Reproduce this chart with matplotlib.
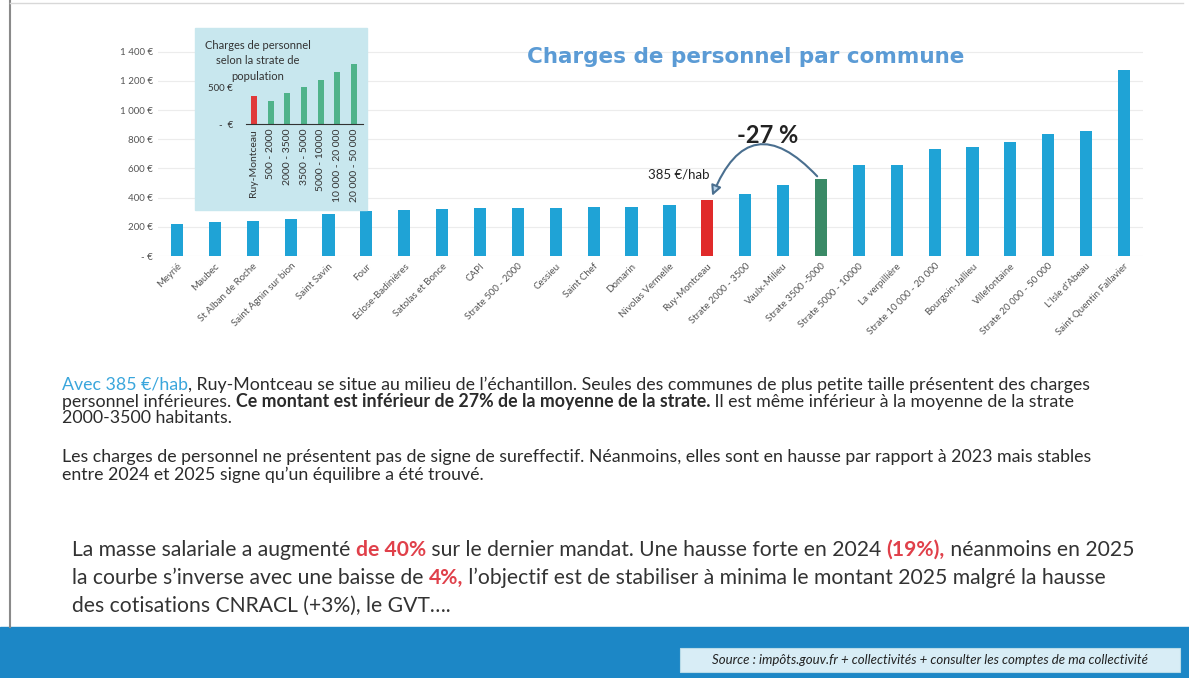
import numpy as np
import matplotlib.pyplot as plt
from matplotlib.patches import Rectangle
from matplotlib.ticker import FuncFormatter

# main chart data (EUR per inhabitant)
communes = ['Meyrié', 'Maubec', 'St Alban de Roche', 'Saint Agnin sur bion', 'Saint Savin', 'Four',
            'Eclose-Badinières', 'Satolas et Bonce', 'CAPI', 'Strate 500 - 2000', 'Cessieu', 'Saint Chef',
            'Domarin', 'Nivolas Vermelle', 'Ruy-Montceau', 'Strate 2000 - 3500', 'Vaulx-Milieu',
            'Strate 3500 -5000', 'Strate 5000 - 10000', 'La verpillière', 'Strate 10 000 - 20 000',
            'Bourgoin-Jallieu', 'Villefontaine', 'Strate 20 000 - 50 000', "L'Isle d'Abeau",
            'Saint Quentin Fallavier']
charges = [219, 232, 240, 253, 287, 307, 318, 322, 326, 330, 332, 335, 338, 348, 385, 423, 485,
           527, 625, 622, 735, 747, 778, 837, 856, 1277]
y_ticks = [0, 200, 400, 600, 800, 1000, 1200, 1400]

# inset data
strates = ['Ruy-Montceau', '500 - 2000', '2000 - 3500', '3500 - 5000', '5000 - 10000',
           '10 000 - 20 000', '20 000 - 50 000']
strate_vals = [385, 316, 426, 509, 605, 715, 825]

W, H = 1189, 678
fig = plt.figure(figsize=(W / 100, H / 100), dpi=100)
fig.patch.set_facecolor('white')
plt.rcParams['font.family'] = ['Lato', 'DejaVu Sans']


def px(x, y):
    return x / W, 1 - y / H


def box(x0, y0, x1, y1):
    return [x0 / W, 1 - y1 / H, (x1 - x0) / W, (y1 - y0) / H]


# slide frame + bottom band
fig.add_artist(plt.Line2D([10 / W, 10 / W], [1 - 627 / H, 1], color='#8a8a8a', lw=1.5))
fig.add_artist(plt.Line2D([10 / W, 1183 / W], [1 - 3 / H, 1 - 3 / H], color='#d8d8d8', lw=1))
fig.add_artist(Rectangle((0, 0), 1, 51 / H, color='#1c87c6', zorder=0))
fig.add_artist(Rectangle(px(680, 672), 500 / W, 24 / H, fc='#d8edf6', ec='#b8dbe8', lw=0.8))
fig.text(*px(930, 660), 'Source : impôts.gouv.fr + collectivités + consulter les comptes de ma collectivité',
         fontsize=9.5, style='italic', color='#222222', ha='center', va='center')

# main bar chart
colors = ['#1fa3d6'] * len(communes)
colors[communes.index('Ruy-Montceau')] = '#e02a2a'
colors[communes.index('Strate 3500 -5000')] = '#3a8a66'

ax = fig.add_axes(box(158, 37, 1143, 256))
x = np.arange(len(communes))
ax.bar(x, charges, width=0.32, color=colors, zorder=3)
ax.set_xlim(-0.5, len(communes) - 0.5)
ax.set_ylim(0, 1500)
ax.set_yticks(y_ticks)
ax.yaxis.set_major_formatter(FuncFormatter(
    lambda v, p: '- €' if v == 0 else '{:,.0f} €'.format(v).replace(',', ' ')))
ax.set_xticks(x)
ax.set_xticklabels(communes, rotation=45, ha='right', rotation_mode='anchor')
ax.tick_params(axis='both', length=0, labelsize=7, labelcolor='#555555')
ax.tick_params(axis='x', pad=4)
ax.grid(axis='y', color='#ececec', lw=0.8, zorder=0)
for s in ax.spines.values():
    s.set_visible(False)
ax.patch.set_alpha(0)

fig.text(*px(746, 57), 'Charges de personnel par commune', fontsize=15.5, fontweight='bold',
         color='#5b9bd5', ha='center', va='center', family='DejaVu Sans')

# -27% arrow between strate 3500-5000 and Ruy-Montceau
i_ruy = communes.index('Ruy-Montceau')
i_str = communes.index('Strate 3500 -5000')
ax.annotate('', xy=(i_ruy + 0.1, charges[i_ruy] + 10), xytext=(i_str - 0.05, charges[i_str] + 5),
            arrowprops=dict(arrowstyle='-|>,head_length=0.6,head_width=0.3', color='#4a6f8f',
                            fc='#b8d4ea', lw=1.5, connectionstyle='arc3,rad=0.8'), zorder=5)
ax.text(15.6, 822, '-27 %', fontsize=17, fontweight='bold', color='#222222', ha='center', va='center')
ax.text(i_ruy + 0.05, 555, '385 €/hab', fontsize=9.5, color='#222222', ha='right', va='center')

# inset chart
fig.add_artist(Rectangle(px(195, 210), 172 / W, 182 / H, color='#c8e7ee', zorder=1))
fig.text(*px(258, 61), 'Charges de personnel\nselon la strate de\npopulation', fontsize=8,
         color='#333333', ha='center', va='center', linespacing=1.45, zorder=3)
iax = fig.add_axes(box(245.6, 58.5, 362.5, 124))
iax.set_zorder(2)
iax.patch.set_alpha(0)
ix = np.arange(len(strates))
icol = ['#e03a3a'] + ['#4fb38a'] * (len(strates) - 1)
iax.bar(ix, strate_vals, width=0.36, color=icol)
iax.set_xlim(-0.5, len(strates) - 0.5)
iax.set_ylim(0, 900)
iax.set_yticks([0, 500])
iax.set_yticklabels(['-  €', '500 €'])
iax.set_xticks(ix)
iax.set_xticklabels(strates, rotation=90)
iax.tick_params(axis='both', length=0, labelsize=7.5, labelcolor='#333333')
iax.tick_params(axis='y', pad=9, labelsize=7)
for s in ['top', 'right', 'left']:
    iax.spines[s].set_visible(False)
iax.spines['bottom'].set_color('#333333')

# text paragraphs
renderer = fig.canvas.get_renderer()
dark = '#2b2b2b'


def rich_line(x0, y0, parts, size):
    xf, yf = px(x0, y0)
    for txt, col, wt in parts:
        t = fig.text(xf, yf, txt, fontsize=size, color=col, fontweight=wt, va='center', ha='left')
        xf += t.get_window_extent(renderer).width / W


blue = '#3aa6dc'
red = '#e0404a'
p = 12.8
rich_line(62, 385, [('Avec 385 €/hab', blue, 'normal'),
                    (', Ruy-Montceau se situe au milieu de l\u2019échantillon. Seules des communes de plus petite taille présentent des charges', dark, 'normal')], p)
rich_line(62, 401.5, [('personnel inférieures. ', dark, 'normal'),
                      ('Ce montant est inférieur de 27% de la moyenne de la strate.', dark, 'bold'),
                      (' Il est même inférieur à la moyenne de la strate', dark, 'normal')], p)
rich_line(62, 418, [('2000-3500 habitants.', dark, 'normal')], p)
rich_line(62, 457, [('Les charges de personnel ne présentent pas de signe de sureffectif. Néanmoins, elles sont en hausse par rapport à 2023 mais stables', dark, 'normal')], p)
rich_line(62, 475, [('entre 2024 et 2025 signe qu\u2019un équilibre a été trouvé.', dark, 'normal')], p)

g = '#333333'
q = 15.2
rich_line(72, 550, [('La masse salariale a augmenté ', g, 'normal'), ('de 40%', red, 'bold'),
                    (' sur le dernier mandat. Une hausse forte en 2024 ', g, 'normal'),
                    ('(19%),', red, 'bold'), (' néanmoins en 2025', g, 'normal')], q)
rich_line(72, 578, [('la courbe s\u2019inverse avec une baisse de ', g, 'normal'), ('4%,', red, 'bold'),
                    (' l\u2019objectif est de stabiliser à minima le montant 2025 malgré la hausse', g, 'normal')], q)
rich_line(72, 606, [('des cotisations CNRACL (+3%), le GVT\u2026.', g, 'normal')], q)

fig.savefig('out.png', dpi=100)
